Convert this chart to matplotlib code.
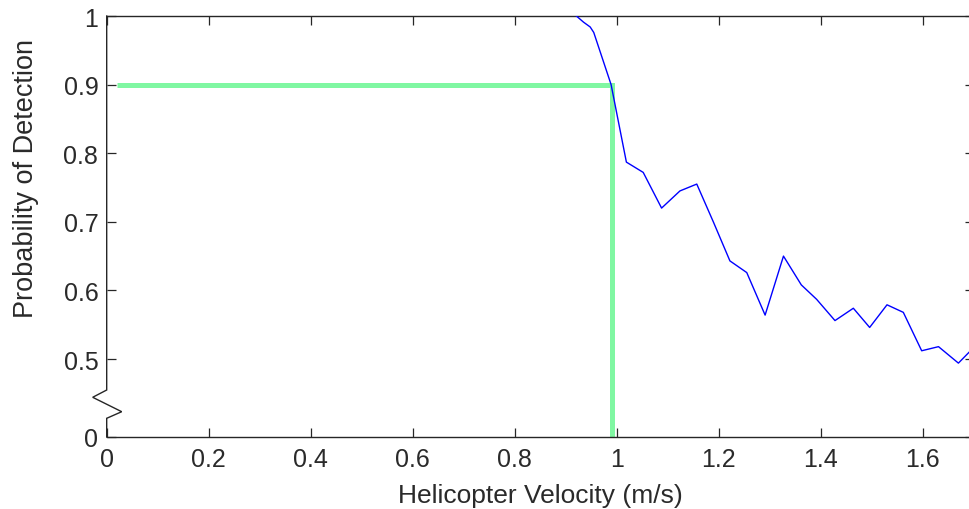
import matplotlib
matplotlib.use("Agg")
import matplotlib.pyplot as plt
from matplotlib.lines import Line2D

# ---- data ----
velocity = [0.921, 0.935, 0.948, 0.955, 0.989, 1.019, 1.052, 1.088, 1.124, 1.157,
            1.190, 1.222, 1.255, 1.291, 1.327, 1.362, 1.392, 1.428, 1.464, 1.496,
            1.530, 1.562, 1.598, 1.631, 1.670, 1.703]
prob_detect = [1.000, 0.991, 0.984, 0.976, 0.900, 0.787, 0.772, 0.720, 0.745, 0.755,
               0.699, 0.643, 0.626, 0.564, 0.650, 0.608, 0.587, 0.556, 0.574, 0.546,
               0.579, 0.568, 0.512, 0.518, 0.494, 0.519]

threshold_x = [0.02, 0.99, 0.99]
y_floor = 0.3863          # axis bottom, labelled "0" (broken axis)
threshold_y = [0.9, 0.9, y_floor]

x_ticks = [0, 0.2, 0.4, 0.6, 0.8, 1.0, 1.2, 1.4, 1.6]
x_tick_labels = ['0', '0.2', '0.4', '0.6', '0.8', '1', '1.2', '1.4', '1.6']
y_ticks = [y_floor, 0.5, 0.6, 0.7, 0.8, 0.9, 1.0]
y_tick_labels = ['0', '0.5', '0.6', '0.7', '0.8', '0.9', '1']

# ---- figure ----
W, H = 969, 510
fig = plt.figure(figsize=(W / 100, H / 100), dpi=100)
left_px, right_px, top_px, bottom_px = 106.7, 973.7, 17, 438
ax = fig.add_axes([left_px / W, (H - bottom_px) / H,
                   (right_px - left_px) / W, (bottom_px - top_px) / H])

plt.rcParams['font.family'] = ['Liberation Sans', 'DejaVu Sans']
txt_col = '#2a2a2a'
line_col = '#262626'

ax.plot(threshold_x, threshold_y, color='#80f7a2', lw=3.6, zorder=2,
        solid_capstyle='butt', solid_joinstyle='miter', clip_on=False)
ax.plot(velocity, prob_detect, color='#0000ff', lw=1.0, zorder=3)

ax.set_xlim(0, 1.7)
ax.set_ylim(y_floor, 1.0)

ax.set_xticks(x_ticks)
ax.set_xticklabels(x_tick_labels, family='Liberation Sans', fontsize=18, color=txt_col)
ax.set_yticks(y_ticks)
ax.set_yticklabels(y_tick_labels, family='Liberation Sans', fontsize=18, color=txt_col)

ax.tick_params(axis='both', direction='in', length=6.5, width=0.9, color=line_col,
               top=True, right=True)
ax.tick_params(axis='x', pad=7.5)
ax.tick_params(axis='y', pad=6)

for s in ['left', 'right']:
    ax.spines[s].set_visible(False)
for s in ['top', 'bottom']:
    ax.spines[s].set_linewidth(1.0)
    ax.spines[s].set_color(line_col)

# broken left axis with zigzag
ax_w = right_px - left_px
ax_h = bottom_px - top_px
def fx(px):
    return (px - left_px) / ax_w
def fy(py):
    return (bottom_px - py) / ax_h
zx = [0, 0, fx(92.7), fx(121.7), 0, 0]
zy = [1, fy(391), fy(398.3), fy(412.7), fy(419.3), 0]
ax.add_line(Line2D(zx, zy, transform=ax.transAxes, color=line_col, lw=1.0,
                   clip_on=False, solid_joinstyle='miter'))

ax.set_xlabel('Helicopter Velocity (m/s)', family='Liberation Sans', fontsize=19,
              color=txt_col, labelpad=8)
ax.set_ylabel('Probability of Detection', family='Liberation Sans', fontsize=19.5,
              color=txt_col)
ax.yaxis.set_label_coords(fx(39), fy(179))

fig.savefig('out.png', dpi=100)
